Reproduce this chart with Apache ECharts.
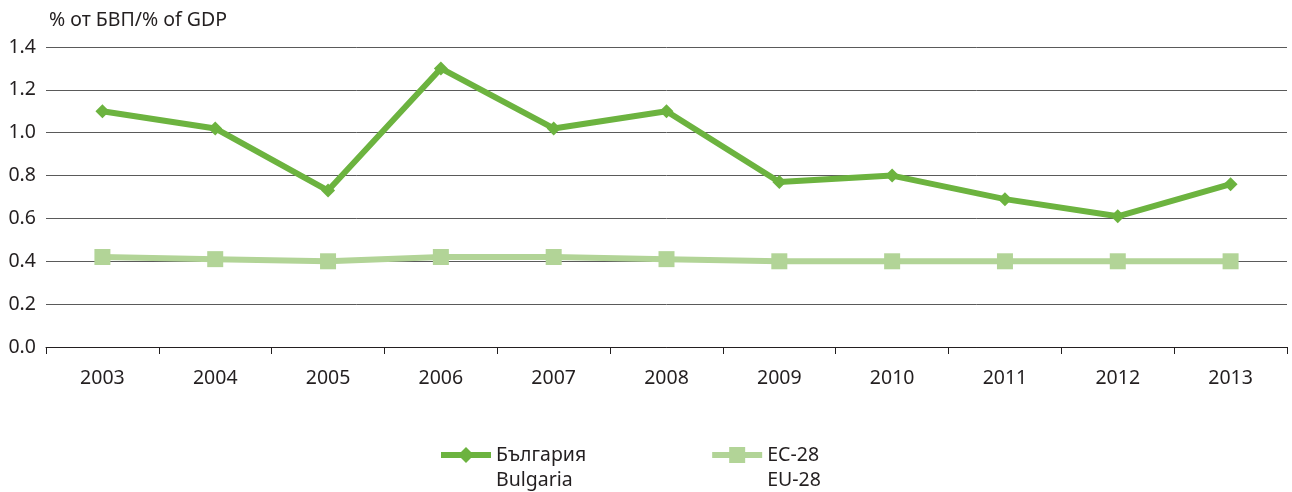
<!DOCTYPE html>
<html>
<head>
<meta charset="utf-8">
<script src="https://cdn.jsdelivr.net/npm/echarts@6/dist/echarts.min.js"></script>
<style>
  html, body { margin: 0; padding: 0; background: #fff; }
  #chart { width: 1292px; height: 492px; }
</style>
</head>
<body>
<div id="chart"></div>
<script>
const years = ['2003', '2004', '2005', '2006', '2007', '2008', '2009', '2010', '2011', '2012', '2013']
const bulgaria = [1.10, 1.02, 0.73, 1.30, 1.02, 1.10, 0.77, 0.80, 0.69, 0.61, 0.76]
const eu28 = [0.42, 0.41, 0.40, 0.42, 0.42, 0.41, 0.40, 0.40, 0.40, 0.40, 0.40]
const seriesNames = ['България\nBulgaria', 'ЕС-28\nEU-28']
const yAxisTitle = '% от БВП/% of GDP'

const font = '"Noto Sans", "DejaVu Sans", sans-serif'
const textColor = '#231f20'
const fs = 19.5
const chart = echarts.init(document.getElementById('chart'))

chart.setOption({
  animation: false,
  textStyle: { fontFamily: font },
  grid: { left: 46, right: 5, top: 47, bottom: 145 },
  legend: {
    top: 415,
    left: 433,
    itemGap: 123,
    itemWidth: 50,
    itemHeight: 20,
    lineStyle: { width: 6 },
    // empty first line so the icon lines up with the first text line
    formatter: name => {
      const parts = name.split('\n')
      return '{s| }\n{t|' + parts[0] + '}\n{t|' + parts[1] + '}'
    },
    textStyle: {
      rich: {
        s: { fontSize: fs, lineHeight: 25 },
        t: { fontSize: fs, lineHeight: 25, color: textColor, fontFamily: font }
      }
    },
    data: seriesNames
  },
  xAxis: {
    type: 'category',
    data: years,
    boundaryGap: true,
    axisLine: { lineStyle: { color: textColor, width: 1 } },
    axisTick: { show: true, length: 7, lineStyle: { color: textColor } },
    axisLabel: { color: textColor, fontSize: fs, margin: 21 }
  },
  yAxis: {
    type: 'value',
    min: 0,
    max: 1.4,
    interval: 0.2,
    name: yAxisTitle,
    nameLocation: 'end',
    nameGap: 17,
    nameTextStyle: { color: textColor, fontSize: fs, align: 'left', padding: [0, 0, 0, 3] },
    axisLine: { show: false },
    axisTick: { show: false },
    axisLabel: {
      color: textColor,
      fontSize: fs,
      margin: 10,
      formatter: v => v.toFixed(1)
    },
    splitLine: { lineStyle: { color: '#5a5a5a', width: 1 } }
  },
  series: [
    {
      name: seriesNames[0],
      type: 'line',
      data: bulgaria,
      symbol: 'diamond',
      symbolSize: 14,
      z: 3,
      itemStyle: { color: '#6cb33f' },
      lineStyle: { color: '#6cb33f', width: 6 }
    },
    {
      name: seriesNames[1],
      type: 'line',
      data: eu28,
      symbol: 'rect',
      symbolSize: 16,
      z: 2,
      itemStyle: { color: '#b2d497' },
      lineStyle: { color: '#b2d497', width: 6 }
    }
  ]
})
</script>
</body>
</html>
